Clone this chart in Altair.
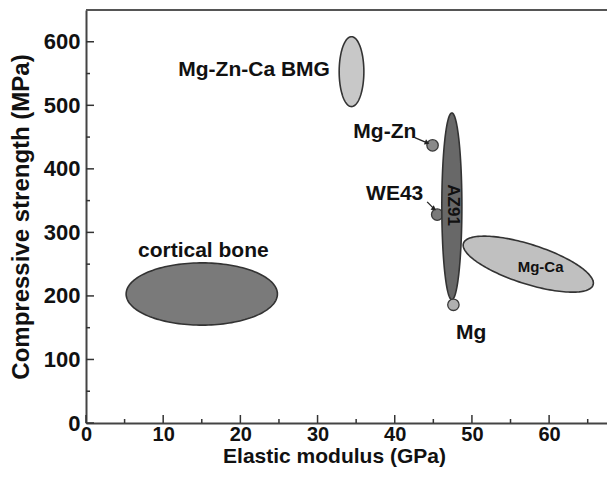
import altair as alt
import pandas as pd

# ---------------- data ----------------
# ellipses: centre (cx, cy) and two half-axis vectors u, v in data units
ell_name = ["cortical bone", "Mg-Zn-Ca BMG", "Mg-Ca", "AZ91"]
ell_cx = [15.0, 34.4, 57.3, 47.4]
ell_cy = [203, 553, 250, 341]
ell_ux = [9.8, 1.6, 8.4, 1.3]
ell_uy = [0, 0, -26.8, 0]
ell_vx = [0, 0, -0.76, 0]
ell_vy = [49, 55, 35, 147]
ell_fill = ["#7a7a7a", "#c8c8c8", "#c0c0c0", "#686868"]

# single alloys (points)
dot_name = ["Mg-Zn", "WE43", "Mg"]
dot_x = [44.9, 45.5, 47.6]
dot_y = [437, 328, 186]
dot_fill = ["#8a8a8a", "#7a7a7a", "#b0b0b0"]

# arrows from labels to points
arr_name = ["Mg-Zn", "Mg-Zn", "WE43", "WE43"]
arr_x = [42.6, 44.2, 44.2, 45.1]
arr_y = [449, 441, 348, 337]
arr_head_name = ["Mg-Zn", "WE43"]
arr_head_x = [44.2, 45.1]
arr_head_y = [441, 337]
arr_head_angle = [23, 35]

# labels
lab_right_text = ["Mg-Zn-Ca BMG", "Mg-Zn", "WE43"]
lab_right_x = [31.6, 42.8, 43.7]
lab_right_y = [556, 458, 360]
lab_center_text = ["cortical bone", "Mg"]
lab_center_x = [15.2, 49.9]
lab_center_y = [271, 142]
lab_small_text = ["Mg-Ca"]
lab_small_x = [58.9]
lab_small_y = [246]
lab_rot_text = ["AZ91"]
lab_rot_x = [47.6]
lab_rot_y = [343]

x_major = [0, 10, 20, 30, 40, 50, 60]
x_minor = [5, 15, 25, 35, 45, 55, 65]
y_major = [0, 100, 200, 300, 400, 500, 600]
y_minor = [50, 150, 250, 350, 450, 550]

x_title = "Elastic modulus (GPa)"
y_title = "Compressive strength (MPa)"

# ---------------- chart ----------------
W, H = 521, 413
FONT = "Liberation Sans"
xs = alt.Scale(domain=[0, 67.5], nice=False, zero=False)
ys = alt.Scale(domain=[0, 650], nice=False, zero=False)

x_axis = alt.Axis(values=x_major, title=x_title, format="d", labelPadding=1,
                  titleX=248, titleY=22, titleBaseline="top",
                  labelFlush=False)
y_axis = alt.Axis(values=y_major, title=y_title, format="d", labelPadding=6,
                  titlePadding=10, labelFlush=False)


def X(field):
    return alt.X(field, type="quantitative", scale=xs, axis=x_axis)


def Y(field):
    return alt.Y(field, type="quantitative", scale=ys, axis=y_axis)


ell_df = pd.DataFrame(dict(name=ell_name, cx=ell_cx, cy=ell_cy, ux=ell_ux,
                           uy=ell_uy, vx=ell_vx, vy=ell_vy, fill=ell_fill))


def ellipse_layer(i):
    return (
        alt.Chart(ell_df)
        .transform_filter(alt.datum.name == ell_name[i])
        .transform_calculate(t="sequence(0, 6.34, 0.04)")
        .transform_flatten(["t"])
        .transform_calculate(
            ex="datum.cx + datum.ux*cos(datum.t) + datum.vx*sin(datum.t)",
            ey="datum.cy + datum.uy*cos(datum.t) + datum.vy*sin(datum.t)",
        )
        .mark_line(fill=ell_fill[i], stroke="#333333", strokeWidth=1.6)
        .encode(x=X("ex"), y=Y("ey"), order=alt.Order("t:Q"))
    )


dot_df = pd.DataFrame(dict(name=dot_name, x=dot_x, y=dot_y, fill=dot_fill))


def dot_layer(i):
    return (
        alt.Chart(dot_df)
        .transform_filter(alt.datum.name == dot_name[i])
        .mark_point(filled=True, size=130, stroke="#3a3a3a", strokeWidth=1.3,
                    opacity=1)
        .encode(x=X("x"), y=Y("y"), fill=alt.Fill("fill:N", scale=None))
    )


arr_df = pd.DataFrame(dict(name=arr_name, x=arr_x, y=arr_y))
arrows = alt.Chart(arr_df).mark_line(color="#222", strokeWidth=1.3).encode(
    x=X("x"), y=Y("y"), detail="name:N")
head_df = pd.DataFrame(dict(name=arr_head_name, x=arr_head_x, y=arr_head_y,
                            a=arr_head_angle))
heads = alt.Chart(head_df).mark_point(shape="triangle-right", filled=True,
                                      size=30, color="#222", opacity=1).encode(
    x=X("x"), y=Y("y"), angle=alt.Angle("a:Q", scale=None))


def text_layer(texts, xs_, ys_, **kw):
    df = pd.DataFrame(dict(t=texts, x=xs_, y=ys_))
    return alt.Chart(df).mark_text(font=FONT, fontWeight="bold", color="#111",
                                   baseline="middle", **kw).encode(
        x=X("x"), y=Y("y"), text="t:N")


one = pd.DataFrame({"k": [0]})
xmaj_df = pd.DataFrame({"v": x_major})
xmin_df = pd.DataFrame({"v": x_minor})
ymaj_df = pd.DataFrame({"v": y_major})
ymin_df = pd.DataFrame({"v": y_minor})

tick_color = "#333"
xmaj = alt.Chart(xmaj_df).mark_rule(color=tick_color, strokeWidth=1.5).encode(
    x=X("v"), y=alt.value(H), y2=alt.value(H - 8))
xmin = alt.Chart(xmin_df).mark_rule(color=tick_color, strokeWidth=1.5).encode(
    x=X("v"), y=alt.value(H), y2=alt.value(H - 4))
ymaj = alt.Chart(ymaj_df).mark_rule(color=tick_color, strokeWidth=1.5).encode(
    y=Y("v"), x=alt.value(0), x2=alt.value(8))
ymin = alt.Chart(ymin_df).mark_rule(color=tick_color, strokeWidth=1.5).encode(
    y=Y("v"), x=alt.value(0), x2=alt.value(4))
top = alt.Chart(one).mark_rule(color="#555", strokeWidth=2).encode(
    y=alt.value(0), x=alt.value(0), x2=alt.value(W))

layers = [
    ellipse_layer(0),
    ellipse_layer(1),
    ellipse_layer(2),
    dot_layer(1),
    ellipse_layer(3),
    dot_layer(0),
    dot_layer(2),
    arrows,
    heads,
    text_layer(lab_right_text, lab_right_x, lab_right_y, align="right",
               fontSize=21),
    text_layer(lab_center_text, lab_center_x, lab_center_y, align="center",
               fontSize=21),
    text_layer(lab_small_text, lab_small_x, lab_small_y, align="center",
               fontSize=15),
    text_layer(lab_rot_text, lab_rot_x, lab_rot_y, align="center",
               fontSize=17, angle=90),
    xmaj, xmin, ymaj, ymin, top,
]

chart = (
    alt.layer(*layers)
    .properties(width=W, height=H, autosize=alt.AutoSizeParams(type="none"),
                padding={"left": 78, "top": 2, "right": 0, "bottom": 45})
    .configure_view(stroke=None)
    .configure_axis(domainColor="#444", domainWidth=2, ticks=False,
                    grid=False, labelFont=FONT, labelFontWeight="bold",
                    labelFontSize=20, labelColor="#111", titleFont=FONT,
                    titleFontWeight="bold", titleFontSize=21,
                    titleColor="#111", labelOverlap=False)
    .configure_axisY(titleFontSize=24, labelFontSize=22)
)

chart.save("out.html", embed_options={"renderer": "svg", "actions": False})
